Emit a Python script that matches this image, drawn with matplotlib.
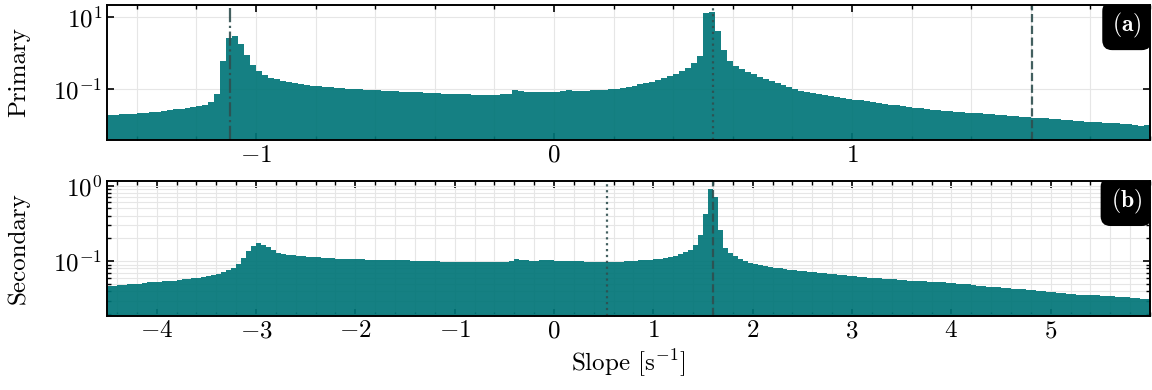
import numpy as np
import matplotlib
matplotlib.use("Agg")
import matplotlib.pyplot as plt
from matplotlib.ticker import FixedLocator, MultipleLocator, NullLocator, LogLocator, FuncFormatter, NullFormatter

plt.rcParams['font.family'] = 'serif'
plt.rcParams['font.serif'] = ['cmr10']
plt.rcParams['mathtext.fontset'] = 'cm'
plt.rcParams['axes.formatter.use_mathtext'] = True
plt.rcParams['axes.unicode_minus'] = True
plt.rcParams['font.size'] = 18
plt.rcParams['axes.linewidth'] = 1.4

# primary slope histogram, bins of 0.02 from -1.5 to 2.0
primary_edges = np.round(np.arange(-1.5, 2.0001, 0.02), 3)
primary_counts = [
    0.0180, 0.0185, 0.0190, 0.0195, 0.0200, 0.0210, 0.0205, 0.0220, 0.0225, 0.0240,
    0.0250, 0.0270, 0.0265, 0.0290, 0.0300, 0.0320, 0.0350, 0.0420, 0.0700, 0.6000,
    2.6000, 2.9000, 1.7000, 0.8500, 0.4500, 0.3000, 0.2400, 0.2000, 0.1800, 0.1650,
    0.1520, 0.1430, 0.1350, 0.1280, 0.1210, 0.1150, 0.1110, 0.1080, 0.1050, 0.1020,
    0.0990, 0.0970, 0.0950, 0.0920, 0.0900, 0.0890, 0.0870, 0.0860, 0.0840, 0.0820,
    0.0810, 0.0790, 0.0780, 0.0760, 0.0750, 0.0730, 0.0720, 0.0710, 0.0700, 0.0690,
    0.0690, 0.0680, 0.0680, 0.0680, 0.0680, 0.0680, 0.0690, 0.0720, 0.0920, 0.0830,
    0.0800, 0.0790, 0.0800, 0.0810, 0.0810, 0.0820, 0.0830, 0.0890, 0.0840, 0.0850,
    0.0870, 0.0890, 0.0910, 0.0940, 0.0970, 0.1000, 0.1060, 0.1130, 0.1210, 0.1310,
    0.1430, 0.1560, 0.1720, 0.1920, 0.2180, 0.2550, 0.3000, 0.3800, 0.5000, 0.8000,
    12.500, 13.500, 4.0000, 1.2000, 0.6000, 0.4200, 0.3400, 0.2900, 0.2500, 0.2100,
    0.1800, 0.1600, 0.1400, 0.1250, 0.1100, 0.0950, 0.0860, 0.0800, 0.0750, 0.0700,
    0.0660, 0.0620, 0.0580, 0.0540, 0.0510, 0.0490, 0.0470, 0.0450, 0.0420, 0.0400,
    0.0380, 0.0360, 0.0340, 0.0320, 0.0300, 0.0290, 0.0280, 0.0270, 0.0260, 0.0250,
    0.0240, 0.0235, 0.0230, 0.0220, 0.0215, 0.0210, 0.0205, 0.0200, 0.0190, 0.0185,
    0.0180, 0.0175, 0.0170, 0.0165, 0.0160, 0.0155, 0.0150, 0.0148, 0.0142, 0.0140,
    0.0135, 0.0133, 0.0128, 0.0125, 0.0120, 0.0118, 0.0115, 0.0112, 0.0110, 0.0107,
    0.0104, 0.0102, 0.0100, 0.0090, 0.0095,
]

# secondary slope histogram, bins of 0.05 from -4.5 to 6.0
secondary_edges = np.round(np.arange(-4.5, 6.0001, 0.05), 3)
secondary_counts = [
    0.047, 0.047, 0.048, 0.048, 0.049, 0.050, 0.050, 0.051, 0.052, 0.052,
    0.053, 0.054, 0.055, 0.055, 0.056, 0.057, 0.058, 0.059, 0.060, 0.061,
    0.063, 0.065, 0.068, 0.071, 0.075, 0.082, 0.092, 0.110, 0.135, 0.160,
    0.172, 0.165, 0.155, 0.140, 0.128, 0.124, 0.121, 0.119, 0.117, 0.115,
    0.114, 0.113, 0.112, 0.111, 0.110, 0.109, 0.108, 0.107, 0.106, 0.105,
    0.105, 0.105, 0.104, 0.104, 0.104, 0.103, 0.103, 0.103, 0.102, 0.102,
    0.102, 0.101, 0.101, 0.100, 0.100, 0.099, 0.099, 0.098, 0.098, 0.097,
    0.097, 0.097, 0.097, 0.097, 0.097, 0.097, 0.097, 0.097, 0.097, 0.097,
    0.097, 0.100, 0.106, 0.103, 0.102, 0.101, 0.101, 0.102, 0.102, 0.102,
    0.101, 0.101, 0.100, 0.100, 0.099, 0.099, 0.098, 0.098, 0.097, 0.097,
    0.097, 0.097, 0.098, 0.098, 0.099, 0.100, 0.101, 0.102, 0.103, 0.104,
    0.106, 0.108, 0.111, 0.114, 0.118, 0.123, 0.130, 0.142, 0.165, 0.220,
    0.420, 0.900, 0.700, 0.260, 0.150, 0.128, 0.115, 0.106, 0.099, 0.094,
    0.091, 0.088, 0.085, 0.083, 0.081, 0.080, 0.078, 0.077, 0.075, 0.074,
    0.073, 0.072, 0.071, 0.070, 0.069, 0.068, 0.067, 0.066, 0.065, 0.064,
    0.063, 0.062, 0.061, 0.060, 0.060, 0.059, 0.058, 0.058, 0.057, 0.056,
    0.056, 0.055, 0.055, 0.054, 0.054, 0.053, 0.053, 0.052, 0.052, 0.051,
    0.051, 0.050, 0.049, 0.049, 0.048, 0.047, 0.047, 0.046, 0.045, 0.045,
    0.044, 0.044, 0.043, 0.042, 0.042, 0.041, 0.041, 0.040, 0.040, 0.039,
    0.039, 0.038, 0.038, 0.037, 0.037, 0.036, 0.036, 0.035, 0.035, 0.035,
    0.034, 0.034, 0.034, 0.033, 0.033, 0.033, 0.032, 0.032, 0.031, 0.031,
]

primary_ticks = [-1, 0, 1]
secondary_ticks = [-4, -3, -2, -1, 0, 1, 2, 3, 4, 5]

# reference slopes marked by vertical lines
slope_dashdot = -1.087
slope_dotted = 0.534
slope_dashed = 1.604

fill_color = '#017578'
line_color = '#2f4f4f'

fig = plt.figure(figsize=(11.52, 3.9), dpi=100)
ax1 = fig.add_axes([0.0929, 0.642, 0.9054, 0.345])
ax2 = fig.add_axes([0.0929, 0.191, 0.9054, 0.345])

ax1.stairs(primary_counts, primary_edges, fill=True, baseline=1e-4,
           color=fill_color, alpha=0.92, lw=0)
ax2.stairs(secondary_counts, secondary_edges, fill=True, baseline=1e-4,
           color=fill_color, alpha=0.92, lw=0)

ax1.axvline(slope_dashdot, color=line_color, ls='-.', lw=1.6, alpha=0.9)
ax1.axvline(slope_dotted, color=line_color, ls=':', lw=1.6, alpha=0.9)
ax1.axvline(slope_dashed, color=line_color, ls='--', lw=1.6, alpha=0.9)
ax2.axvline(slope_dotted, color=line_color, ls=':', lw=1.6, alpha=0.9)
ax2.axvline(slope_dashed, color=line_color, ls='--', lw=1.6, alpha=0.9)

for ax in (ax1, ax2):
    ax.set_yscale('log')
    ax.set_axisbelow(True)
    ax.xaxis.set_minor_locator(MultipleLocator(0.2))
    ax.xaxis.set_major_formatter(FuncFormatter(lambda v, p: rf'${v:g}$'))
    ax.tick_params(which='both', direction='in', top=True, right=True)
    ax.tick_params(which='major', length=5, width=1.2)
    ax.tick_params(which='minor', length=3, width=1.0)
    ax.grid(True, which='both', color='0.9', lw=0.8)

ax1.set_xlim(-1.5, 2.0)
ax1.set_ylim(0.0038, 21)
ax1.xaxis.set_major_locator(FixedLocator(primary_ticks))
ax1.yaxis.set_major_locator(FixedLocator([0.1, 10]))
ax1.yaxis.set_minor_locator(NullLocator())
ax1.set_ylabel('Primary')

ax2.set_xlim(-4.5, 6.0)
ax2.set_ylim(0.019, 1.15)
ax2.xaxis.set_major_locator(FixedLocator(secondary_ticks))
ax2.yaxis.set_major_locator(FixedLocator([0.1, 1]))
ax2.yaxis.set_minor_locator(LogLocator(base=10, subs=np.arange(2, 10)))
ax2.yaxis.set_minor_formatter(NullFormatter())
ax2.set_ylabel('Secondary')
ax2.set_xlabel(r'Slope [s$^{-1}$]')

for ax in (ax1, ax2):
    ax.yaxis.set_label_coords(-0.074, 0.5)

for ax, tag in ((ax1, '(a)'), (ax2, '(b)')):
    ax.text(0.992, 0.955, rf'$\mathbf{{{tag}}}$', transform=ax.transAxes,
            ha='right', va='top', color='white', fontsize=17, clip_on=True,
            bbox=dict(boxstyle='round,pad=0.42', fc='black', ec='none'))

fig.savefig('out.png', dpi=100)
